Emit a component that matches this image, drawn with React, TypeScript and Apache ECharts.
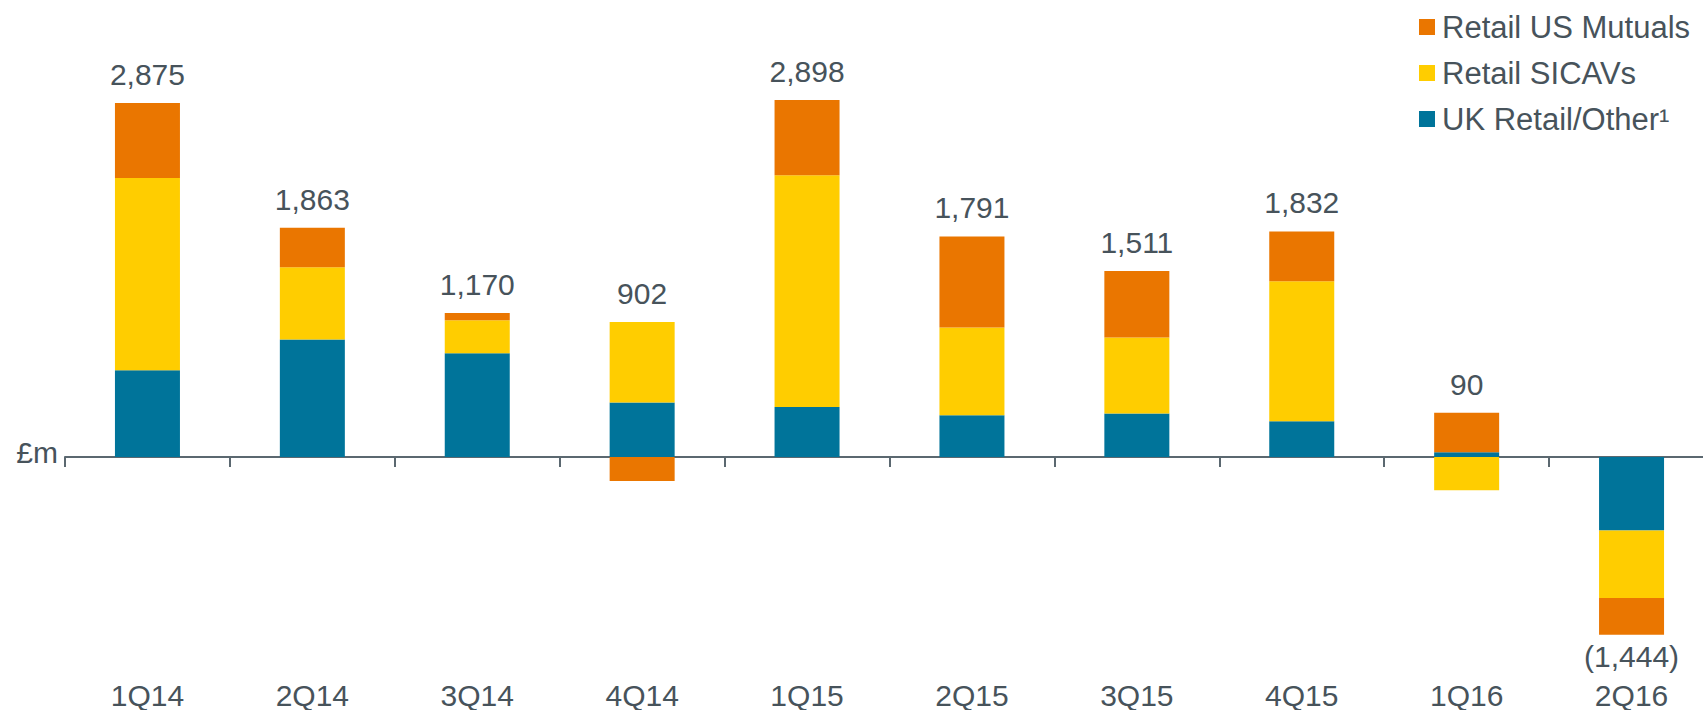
import React, { useEffect, useRef } from "react";
import * as echarts from "echarts";

const categories = ["1Q14", "2Q14", "3Q14", "4Q14", "1Q15", "2Q15", "3Q15", "4Q15", "1Q16", "2Q16"];
const ukRetailOther = [705, 954, 843, 442, 406, 339, 353, 290, 38, -596];
const retailSicavs = [1561, 588, 268, 655, 1883, 713, 618, 1138, -270, -550];
const retailUsMutuals = [610, 320, 59, -195, 610, 739, 540, 404, 322, -298];
const totals = [2875, 1863, 1170, 902, 2898, 1791, 1511, 1832, 90, -1444];

const TEXT = "#47535b";
const FONT = "'Liberation Sans', Arial, sans-serif";

function fmt(v: number) {
  const s = Math.abs(v).toLocaleString("en-US");
  return v < 0 ? `(${s})` : s;
}

export default function App() {
  const ref = useRef<HTMLDivElement>(null);
  useEffect(() => {
    document.body.style.margin = "0";
    if (!ref.current) return;
    const chart = echarts.init(ref.current, undefined, { renderer: "svg" });
    const series = [ukRetailOther, retailSicavs, retailUsMutuals];
    const posSum = categories.map((_, i) => series.reduce((a, s) => a + Math.max(0, s[i]), 0));
    const negSum = categories.map((_, i) => series.reduce((a, s) => a + Math.min(0, s[i]), 0));
    const labelData = totals.map((t, i) => ({
      value: t >= 0 ? posSum[i] : negSum[i],
      label: {
        position: t >= 0 ? "top" : "bottom",
        distance: t >= 0 ? 13 : 6,
        formatter: fmt(t),
      },
    }));
    chart.setOption({
      animation: false,
      textStyle: { fontFamily: FONT },
      grid: { left: 65, right: -11, top: 63, bottom: 56, containLabel: false, outerBoundsMode: "none" },
      legend: {
        orient: "vertical",
        left: 1414,
        top: 4,
        itemWidth: 16,
        itemHeight: 16,
        itemGap: 10,
        icon: "rect",
        data: ["Retail US Mutuals", "Retail SICAVs", "UK Retail/Other¹"],
        textStyle: { fontSize: 31, lineHeight: 36, color: TEXT, fontFamily: FONT, padding: [0, 0, 0, 2] },
      },
      xAxis: [
        {
          type: "category",
          data: categories,
          axisLine: { onZero: true, lineStyle: { color: "#5b6870", width: 2 } },
          axisTick: { show: true, length: 10, lineStyle: { color: "#5b6870", width: 2 } },
          axisLabel: { show: false },
          splitLine: { show: false },
        },
        {
          type: "category",
          data: categories,
          position: "bottom",
          axisLine: { show: false, onZero: false },
          axisTick: { show: false },
          axisLabel: { margin: 26, fontSize: 30, color: TEXT, fontFamily: FONT },
          splitLine: { show: false },
        },
      ],
      yAxis: {
        type: "value",
        min: -1600,
        max: 3200,
        show: false,
        splitLine: { show: false },
      },
      graphic: [
        {
          type: "text",
          right: 1703 - 58,
          top: 437,
          style: { text: "£m", fontSize: 30, fill: TEXT, fontFamily: FONT },
        },
      ],
      series: [
        {
          name: "UK Retail/Other¹",
          type: "bar",
          stack: "total",
          barWidth: 65,
          itemStyle: { color: "#00749a" },
          data: ukRetailOther,
        },
        {
          name: "Retail SICAVs",
          type: "bar",
          stack: "total",
          barWidth: 65,
          itemStyle: { color: "#ffcd00" },
          data: retailSicavs,
        },
        {
          name: "Retail US Mutuals",
          type: "bar",
          stack: "total",
          barWidth: 65,
          itemStyle: { color: "#ea7600" },
          data: retailUsMutuals,
        },
        {
          name: "totals",
          type: "scatter",
          symbolSize: 1,
          itemStyle: { color: "rgba(0,0,0,0)", opacity: 1 },
          label: { show: true, fontSize: 30, color: TEXT, fontFamily: FONT, opacity: 1 },
          data: labelData,
        },
      ],
    });
    return () => chart.dispose();
  }, []);
  return (
    <div
      ref={ref}
      style={{ position: "absolute", left: 0, top: 0, width: 1703, height: 710 }}
    />
  );
}
